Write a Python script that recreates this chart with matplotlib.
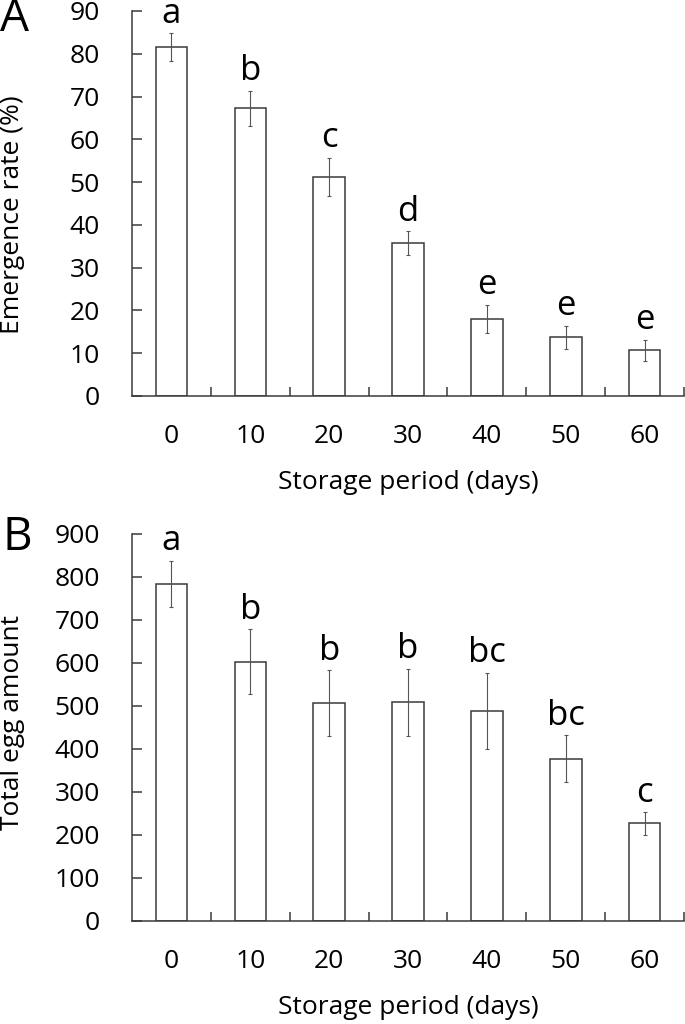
import numpy as np
import matplotlib
matplotlib.use("Agg")
import matplotlib.pyplot as plt

plt.rcParams['font.family'] = ['Open Sans', 'DejaVu Sans']

# --- DATA ---
days = ["0", "10", "20", "30", "40", "50", "60"]

emergence = [81.6, 67.3, 51.2, 35.7, 18.0, 13.7, 10.7]
emergence_err = [3.2, 4.1, 4.5, 2.8, 3.3, 2.7, 2.5]
emergence_letters = ["a", "b", "c", "d", "e", "e", "e"]

eggs = [784, 603, 506, 509, 488, 377, 227]
eggs_err = [54, 75, 77, 78, 89, 55, 26]
eggs_letters = ["a", "b", "b", "b", "bc", "bc", "c"]

LINE = '#3a3a3a'
FS = 19


def draw_panel(ax, vals, errs, letters, ymax, ystep, ylabel, label_y):
    x = np.arange(len(vals))
    ax.bar(x, vals, width=0.4, color='white', edgecolor=LINE, linewidth=1.1, zorder=2)
    ax.errorbar(x, vals, yerr=errs, fmt='none', ecolor='#555555', elinewidth=0.8,
                capsize=1.6, capthick=0.8, zorder=3)
    # significance letters above each error bar
    for xi, v, e, lab in zip(x, vals, errs, letters):
        ax.annotate(lab, (xi, v + e), xytext=(0, 7.5), textcoords='offset points',
                    ha='center', va='baseline', fontsize=25, color='black')

    ax.set_xlim(-0.5, len(vals) - 0.5)
    ax.set_ylim(0, ymax)
    ax.set_yticks(np.arange(0, ymax + 1, ystep))
    ax.set_xticks(x)
    ax.set_xticklabels(days)
    ax.set_xticks(np.arange(0.5, len(vals), 1.0), minor=True)

    for s in ['top', 'right']:
        ax.spines[s].set_visible(False)
    for s in ['left', 'bottom']:
        ax.spines[s].set_color(LINE)
        ax.spines[s].set_linewidth(1.1)

    ax.tick_params(axis='y', direction='in', length=7.5, width=1.1, color=LINE,
                   labelsize=FS, pad=23)
    ax.tick_params(axis='x', which='major', length=0, labelsize=FS, pad=20)
    ax.tick_params(axis='x', which='minor', direction='in', length=6.5, width=1.1, color=LINE)

    ax.set_ylabel(ylabel, fontsize=FS)
    ax.yaxis.set_label_coords(-0.194, label_y)
    ax.set_xlabel("Storage period (days)", fontsize=FS, labelpad=15)


fig = plt.figure(figsize=(6.85, 10.24), dpi=100)
ax1 = fig.add_axes([0.1927, 0.6133, 0.806, 0.376])
ax2 = fig.add_axes([0.1927, 0.1006, 0.806, 0.378])

draw_panel(ax1, emergence, emergence_err, emergence_letters, 90, 10,
           "Emergence rate (%)", 0.47)
draw_panel(ax2, eggs, eggs_err, eggs_letters, 900, 100,
           "Total egg amount", 0.514)

fig.text(0.0, 1 - 19 / 1024, "A", fontsize=33, ha='left', va='center')
fig.text(0.004, 1 - 538 / 1024, "B", fontsize=33, ha='left', va='center')

fig.savefig("out.png", dpi=100)
